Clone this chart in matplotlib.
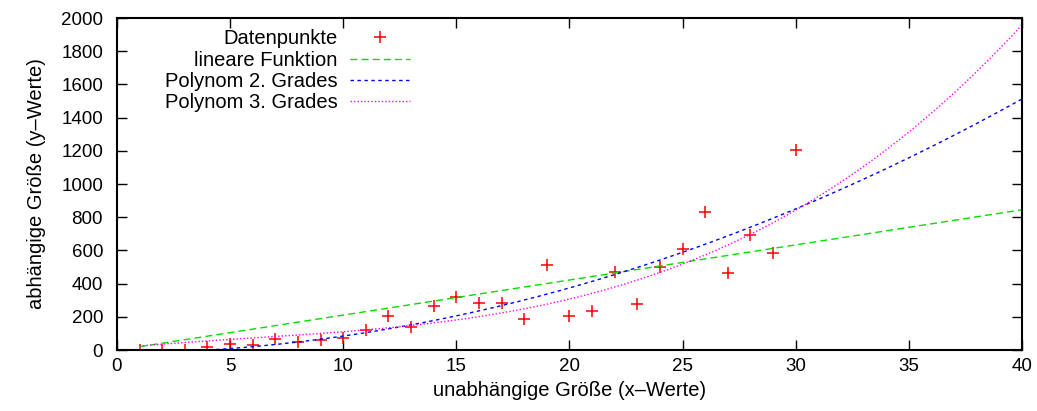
import numpy as np
import matplotlib
matplotlib.use("Agg")
import matplotlib.pyplot as plt

x_data = np.arange(1, 31)
y_data = [2, 3, 3, 16, 36, 30, 66, 48, 60, 72,
          120, 202, 136, 268, 322, 283, 283, 186, 510, 202,
          232, 472, 276, 502, 606, 834, 462, 694, 586, 1204]

# Koeffizienten der Ausgleichsfunktionen (hoechste Potenz zuerst)
coef_lin = [21.15, -1.2]
coef_quad = [0.93, 1.1, -20.0]
coef_cub = [0.04, -0.705, 12.85, 12.0]

labels = ["Datenpunkte", "lineare Funktion", "Polynom 2. Grades", "Polynom 3. Grades"]

plt.rcParams['font.family'] = ['Liberation Sans', 'DejaVu Sans']

fig = plt.figure(figsize=(10.37, 4.11), dpi=100)
ax = fig.add_axes([0.1128, 0.1484, 0.8727, 0.8078])

xs = np.linspace(1, 40, 400)

ax.plot(x_data, y_data, '+', color='#ff0000', ms=9, mew=1.1, label=labels[0])
ax.plot(xs, np.polyval(coef_lin, xs), color='#00e000', lw=1, dashes=(5, 3), label=labels[1])
ax.plot(xs, np.polyval(coef_quad, xs), color='#0000ff', lw=1, dashes=(2.5, 2.5), label=labels[2])
ax.plot(xs, np.polyval(coef_cub, xs), color='#ff00ff', lw=1, dashes=(1, 1.5), label=labels[3])

ax.set_xlim(0, 40)
ax.set_ylim(0, 2000)
ax.set_xticks(range(0, 41, 5))
ax.set_yticks(range(0, 2001, 200))
ax.tick_params(direction='in', length=7, width=1, top=True, right=True, labelsize=13.5)
ax.tick_params(axis='x', pad=6)
ax.tick_params(axis='y', pad=10)
for s in ax.spines.values():
    s.set_linewidth(1.5)

ax.set_xlabel("unabhängige Größe (x–Werte)", fontsize=14.5, labelpad=4)
ax.set_ylabel("abhängige Größe (y–Werte)", fontsize=14.5, labelpad=11)

leg = ax.legend(loc='upper right', bbox_to_anchor=(0.333, 0.99), borderaxespad=0,
                markerfirst=False, frameon=False, fontsize=14.5, handlelength=3,
                labelspacing=0.11, handletextpad=0.6)

fig.savefig("out.png", dpi=100)
